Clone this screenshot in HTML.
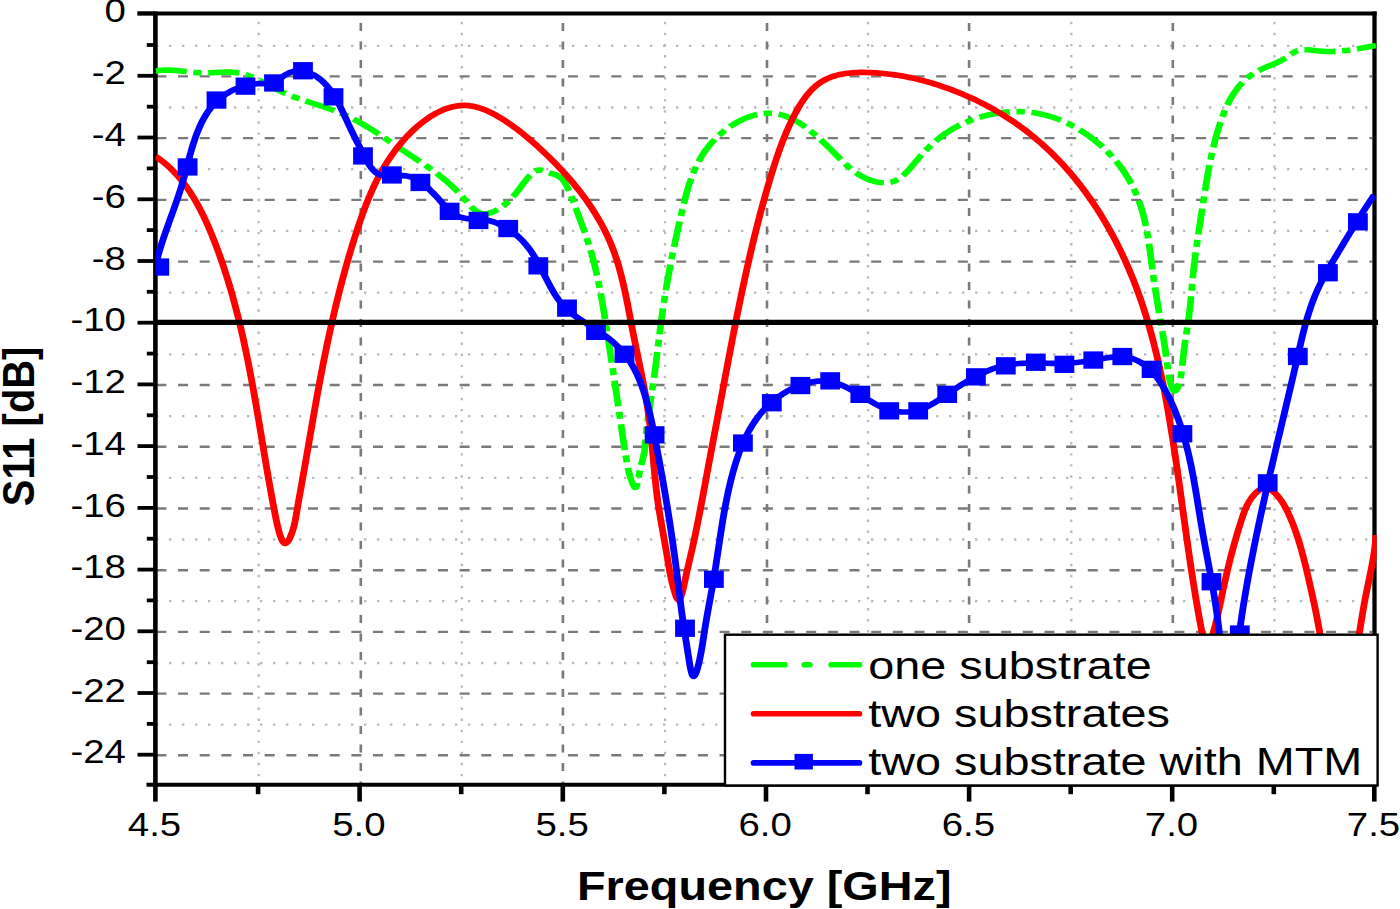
<!DOCTYPE html>
<html><head><meta charset="utf-8"><style>
*{margin:0;padding:0}
html,body{width:1400px;height:909px;overflow:hidden;background:#fff}
svg{display:block}
text{font-family:"Liberation Sans",sans-serif;fill:#000}
.tl{font-size:32.5px}
.tt{font-size:40.5px;font-weight:bold}
.lt{font-size:39.5px}
.gm{stroke:#bababa;stroke-width:2.3;stroke-dasharray:2.4 10.6}
.gmv{stroke:#bababa;stroke-width:2.3;stroke-dasharray:2.4 8.66}
.gM{stroke:#7a7a7a;stroke-width:2.4;stroke-dasharray:10 11.66}
.gMv{stroke:#7a7a7a;stroke-width:2.6;stroke-dasharray:8 10.5}
.cg{fill:none;stroke:#00ff00;stroke-width:5.6;stroke-dasharray:26 5.5 7 5.5;stroke-linejoin:round}
.cr{fill:none;stroke:#ff0000;stroke-width:5.7;stroke-linejoin:round}
.cb{fill:none;stroke:#0000ff;stroke-width:5.7;stroke-linejoin:round}
.lg{stroke-width:5.6;stroke-linecap:round}
</style></head>
<body><svg width="1400" height="909" viewBox="0 0 1400 909">
<defs><clipPath id="pc"><rect x="155.5" y="13.4" width="1221.1" height="771.6"/></clipPath></defs>
<rect width="1400" height="909" fill="#fff"/>
<line x1="156" y1="45.8" x2="1372" y2="45.8" class="gm"/>
<line x1="156" y1="107.5" x2="1372" y2="107.5" class="gm"/>
<line x1="156" y1="169.2" x2="1372" y2="169.2" class="gm"/>
<line x1="156" y1="230.9" x2="1372" y2="230.9" class="gm"/>
<line x1="156" y1="292.6" x2="1372" y2="292.6" class="gm"/>
<line x1="156" y1="354.4" x2="1372" y2="354.4" class="gm"/>
<line x1="156" y1="416.1" x2="1372" y2="416.1" class="gm"/>
<line x1="156" y1="477.8" x2="1372" y2="477.8" class="gm"/>
<line x1="156" y1="539.5" x2="1372" y2="539.5" class="gm"/>
<line x1="156" y1="601.2" x2="1372" y2="601.2" class="gm"/>
<line x1="156" y1="663.0" x2="1372" y2="663.0" class="gm"/>
<line x1="156" y1="724.7" x2="1372" y2="724.7" class="gm"/>
<line x1="258.7" y1="21.8" x2="258.7" y2="782" class="gmv"/>
<line x1="461.8" y1="21.8" x2="461.8" y2="782" class="gmv"/>
<line x1="665.0" y1="21.8" x2="665.0" y2="782" class="gmv"/>
<line x1="868.1" y1="21.8" x2="868.1" y2="782" class="gmv"/>
<line x1="1071.3" y1="21.8" x2="1071.3" y2="782" class="gmv"/>
<line x1="1274.4" y1="21.8" x2="1274.4" y2="782" class="gmv"/>
<line x1="156.4" y1="76.4" x2="1372" y2="76.4" class="gM"/>
<line x1="156.4" y1="138.1" x2="1372" y2="138.1" class="gM"/>
<line x1="156.4" y1="199.9" x2="1372" y2="199.9" class="gM"/>
<line x1="156.4" y1="261.6" x2="1372" y2="261.6" class="gM"/>
<line x1="156.4" y1="385.0" x2="1372" y2="385.0" class="gM"/>
<line x1="156.4" y1="446.7" x2="1372" y2="446.7" class="gM"/>
<line x1="156.4" y1="508.5" x2="1372" y2="508.5" class="gM"/>
<line x1="156.4" y1="570.2" x2="1372" y2="570.2" class="gM"/>
<line x1="156.4" y1="631.9" x2="1372" y2="631.9" class="gM"/>
<line x1="156.4" y1="693.6" x2="1372" y2="693.6" class="gM"/>
<line x1="156.4" y1="755.3" x2="1372" y2="755.3" class="gM"/>
<line x1="360.8" y1="22.9" x2="360.8" y2="783" class="gMv"/>
<line x1="562.9" y1="22.9" x2="562.9" y2="783" class="gMv"/>
<line x1="767.0" y1="22.9" x2="767.0" y2="783" class="gMv"/>
<line x1="969.1" y1="22.9" x2="969.1" y2="783" class="gMv"/>
<line x1="1172.8" y1="22.9" x2="1172.8" y2="783" class="gMv"/>
<line x1="155.4" y1="11.4" x2="155.4" y2="786.8" stroke="#000" stroke-width="4.6"/>
<line x1="1374.5" y1="11.4" x2="1374.5" y2="786.8" stroke="#000" stroke-width="4.3"/>
<line x1="137.5" y1="13.4" x2="1376.6" y2="13.4" stroke="#000" stroke-width="4"/>
<line x1="146.5" y1="784.8" x2="1376.6" y2="784.8" stroke="#000" stroke-width="4"/>
<line x1="137.5" y1="13.4" x2="155" y2="13.4" stroke="#000" stroke-width="3.8"/>
<line x1="146.8" y1="45.0" x2="155" y2="45.0" stroke="#000" stroke-width="3.8"/>
<line x1="137.5" y1="75.8" x2="155" y2="75.8" stroke="#000" stroke-width="3.8"/>
<line x1="146.8" y1="106.7" x2="155" y2="106.7" stroke="#000" stroke-width="3.8"/>
<line x1="137.5" y1="137.5" x2="155" y2="137.5" stroke="#000" stroke-width="3.8"/>
<line x1="146.8" y1="168.4" x2="155" y2="168.4" stroke="#000" stroke-width="3.8"/>
<line x1="137.5" y1="199.3" x2="155" y2="199.3" stroke="#000" stroke-width="3.8"/>
<line x1="146.8" y1="230.1" x2="155" y2="230.1" stroke="#000" stroke-width="3.8"/>
<line x1="137.5" y1="261.0" x2="155" y2="261.0" stroke="#000" stroke-width="3.8"/>
<line x1="146.8" y1="291.8" x2="155" y2="291.8" stroke="#000" stroke-width="3.8"/>
<line x1="137.5" y1="322.7" x2="155" y2="322.7" stroke="#000" stroke-width="3.8"/>
<line x1="146.8" y1="353.6" x2="155" y2="353.6" stroke="#000" stroke-width="3.8"/>
<line x1="137.5" y1="384.4" x2="155" y2="384.4" stroke="#000" stroke-width="3.8"/>
<line x1="146.8" y1="415.3" x2="155" y2="415.3" stroke="#000" stroke-width="3.8"/>
<line x1="137.5" y1="446.1" x2="155" y2="446.1" stroke="#000" stroke-width="3.8"/>
<line x1="146.8" y1="477.0" x2="155" y2="477.0" stroke="#000" stroke-width="3.8"/>
<line x1="137.5" y1="507.9" x2="155" y2="507.9" stroke="#000" stroke-width="3.8"/>
<line x1="146.8" y1="538.7" x2="155" y2="538.7" stroke="#000" stroke-width="3.8"/>
<line x1="137.5" y1="569.6" x2="155" y2="569.6" stroke="#000" stroke-width="3.8"/>
<line x1="146.8" y1="600.4" x2="155" y2="600.4" stroke="#000" stroke-width="3.8"/>
<line x1="137.5" y1="631.3" x2="155" y2="631.3" stroke="#000" stroke-width="3.8"/>
<line x1="146.8" y1="662.2" x2="155" y2="662.2" stroke="#000" stroke-width="3.8"/>
<line x1="137.5" y1="693.0" x2="155" y2="693.0" stroke="#000" stroke-width="3.8"/>
<line x1="146.8" y1="723.9" x2="155" y2="723.9" stroke="#000" stroke-width="3.8"/>
<line x1="137.5" y1="754.7" x2="155" y2="754.7" stroke="#000" stroke-width="3.8"/>
<line x1="155.4" y1="786" x2="155.4" y2="801.6" stroke="#000" stroke-width="4.6"/>
<line x1="258.1" y1="786" x2="258.1" y2="794.2" stroke="#000" stroke-width="4.6"/>
<line x1="359.6" y1="786" x2="359.6" y2="801.6" stroke="#000" stroke-width="4.6"/>
<line x1="461.2" y1="786" x2="461.2" y2="794.2" stroke="#000" stroke-width="4.6"/>
<line x1="562.8" y1="786" x2="562.8" y2="801.6" stroke="#000" stroke-width="4.6"/>
<line x1="664.4" y1="786" x2="664.4" y2="794.2" stroke="#000" stroke-width="4.6"/>
<line x1="766.0" y1="786" x2="766.0" y2="801.6" stroke="#000" stroke-width="4.6"/>
<line x1="867.5" y1="786" x2="867.5" y2="794.2" stroke="#000" stroke-width="4.6"/>
<line x1="969.1" y1="786" x2="969.1" y2="801.6" stroke="#000" stroke-width="4.6"/>
<line x1="1070.7" y1="786" x2="1070.7" y2="794.2" stroke="#000" stroke-width="4.6"/>
<line x1="1172.2" y1="786" x2="1172.2" y2="801.6" stroke="#000" stroke-width="4.6"/>
<line x1="1273.8" y1="786" x2="1273.8" y2="794.2" stroke="#000" stroke-width="4.6"/>
<line x1="1374.3" y1="786" x2="1374.3" y2="801.6" stroke="#000" stroke-width="4.6"/>
<g clip-path="url(#pc)">
<g transform="scale(1.2000,1)">
<path d="M129.70,70.89 L131.45,70.60 L133.18,70.39 L134.89,70.23 L136.59,70.14 L138.27,70.10 L139.94,70.11 L141.60,70.16 L143.25,70.25 L144.89,70.38 L146.53,70.53 L148.16,70.71 L149.78,70.90 L151.40,71.11 L153.02,71.33 L154.64,71.56 L156.27,71.78 L157.89,72.00 L159.52,72.20 L161.16,72.39 L162.80,72.56 L164.45,72.70 L166.11,72.82 L167.78,72.89 L169.47,72.93 L171.17,72.92 L172.88,72.88 L174.60,72.81 L176.33,72.73 L178.06,72.63 L179.79,72.52 L181.53,72.41 L183.26,72.31 L184.99,72.22 L186.72,72.16 L188.44,72.12 L190.15,72.12 L191.85,72.17 L193.54,72.26 L195.21,72.41 L196.87,72.62 L198.50,72.90 L200.12,73.26 L201.72,73.69 L203.30,74.18 L204.87,74.73 L206.42,75.34 L207.95,76.00 L209.48,76.71 L210.99,77.46 L212.49,78.25 L213.99,79.08 L215.48,79.93 L216.96,80.81 L218.43,81.71 L219.91,82.63 L221.38,83.57 L222.85,84.51 L224.32,85.45 L225.80,86.39 L227.27,87.33 L228.76,88.26 L230.24,89.18 L231.74,90.08 L233.24,90.95 L234.75,91.80 L236.27,92.63 L237.79,93.43 L239.33,94.21 L240.87,94.96 L242.42,95.70 L243.98,96.42 L245.54,97.13 L247.11,97.81 L248.68,98.49 L250.26,99.15 L251.84,99.80 L253.42,100.44 L255.00,101.08 L256.59,101.71 L258.18,102.33 L259.77,102.95 L261.36,103.56 L262.94,104.18 L264.53,104.80 L266.12,105.42 L267.71,106.04 L269.29,106.67 L270.87,107.31 L272.45,107.95 L274.02,108.61 L275.59,109.27 L277.15,109.95 L278.71,110.64 L280.26,111.35 L281.80,112.07 L283.34,112.81 L284.87,113.57 L286.39,114.36 L287.91,115.16 L289.41,115.99 L290.91,116.84 L292.39,117.72 L293.87,118.61 L295.35,119.52 L296.81,120.45 L298.27,121.40 L299.72,122.37 L301.16,123.35 L302.60,124.35 L304.03,125.36 L305.46,126.39 L306.88,127.43 L308.29,128.48 L309.70,129.54 L311.11,130.61 L312.51,131.69 L313.91,132.78 L315.31,133.87 L316.70,134.97 L318.09,136.08 L319.47,137.19 L320.86,138.31 L322.24,139.43 L323.62,140.55 L325.00,141.67 L326.38,142.79 L327.75,143.91 L329.13,145.03 L330.51,146.14 L331.88,147.26 L333.26,148.37 L334.64,149.47 L336.02,150.57 L337.39,151.66 L338.77,152.75 L340.15,153.84 L341.53,154.93 L342.91,156.01 L344.29,157.10 L345.66,158.18 L347.04,159.27 L348.41,160.36 L349.78,161.46 L351.15,162.56 L352.51,163.66 L353.88,164.77 L355.23,165.90 L356.59,167.02 L357.94,168.16 L359.29,169.31 L360.63,170.48 L361.96,171.65 L363.30,172.84 L364.62,174.04 L365.94,175.26 L367.26,176.49 L368.56,177.74 L369.86,179.01 L371.16,180.30 L372.44,181.61 L373.72,182.94 L374.99,184.30 L376.25,185.67 L377.50,187.07 L378.75,188.50 L379.98,189.95 L381.20,191.43 L382.42,192.94 L383.62,194.47 L384.82,196.04 L386.00,197.63 L387.17,199.26 L388.33,200.91 L389.50,202.55 L390.66,204.16 L391.84,205.73 L393.02,207.22 L394.23,208.62 L395.47,209.90 L396.73,211.04 L398.03,212.02 L399.38,212.81 L400.77,213.40 L402.22,213.76 L403.72,213.87 L405.27,213.76 L406.85,213.43 L408.46,212.91 L410.07,212.23 L411.68,211.41 L413.28,210.46 L414.84,209.41 L416.37,208.28 L417.84,207.09 L419.25,205.86 L420.61,204.59 L421.92,203.28 L423.17,201.93 L424.38,200.55 L425.55,199.15 L426.68,197.72 L427.77,196.26 L428.83,194.79 L429.86,193.30 L430.87,191.80 L431.85,190.29 L432.82,188.77 L433.78,187.23 L434.76,185.65 L435.77,184.04 L436.83,182.38 L437.94,180.66 L439.11,178.91 L440.34,177.19 L441.61,175.54 L442.93,174.01 L444.28,172.65 L445.66,171.52 L447.07,170.65 L448.50,170.11 L449.95,169.93 L451.40,170.15 L452.89,170.68 L454.44,171.39 L456.07,172.16 L457.81,172.87 L459.61,173.52 L461.42,174.18 L463.16,174.90 L464.77,175.74 L466.21,176.75 L467.49,177.91 L468.62,179.22 L469.62,180.65 L470.52,182.18 L471.34,183.81 L472.08,185.51 L472.79,187.26 L473.46,189.05 L474.13,190.87 L474.79,192.71 L475.44,194.57 L476.08,196.44 L476.71,198.33 L477.34,200.23 L477.96,202.15 L478.57,204.07 L479.18,206.00 L479.79,207.93 L480.39,209.86 L480.99,211.79 L481.58,213.72 L482.17,215.64 L482.76,217.56 L483.35,219.47 L483.93,221.37 L484.51,223.26 L485.09,225.15 L485.66,227.03 L486.23,228.91 L486.79,230.78 L487.35,232.66 L487.89,234.53 L488.44,236.40 L488.97,238.27 L489.50,240.14 L490.01,242.02 L490.52,243.90 L491.02,245.78 L491.51,247.67 L491.98,249.56 L492.45,251.46 L492.91,253.36 L493.36,255.27 L493.80,257.18 L494.23,259.10 L494.65,261.02 L495.06,262.94 L495.47,264.87 L495.86,266.80 L496.25,268.74 L496.63,270.68 L497.00,272.62 L497.37,274.57 L497.73,276.52 L498.08,278.47 L498.43,280.42 L498.76,282.38 L499.10,284.34 L499.43,286.30 L499.75,288.27 L500.06,290.24 L500.37,292.21 L500.68,294.18 L500.98,296.15 L501.28,298.13 L501.57,300.10 L501.86,302.08 L502.15,304.06 L502.43,306.04 L502.71,308.02 L502.98,310.00 L503.25,311.99 L503.52,313.97 L503.79,315.95 L504.06,317.94 L504.32,319.92 L504.58,321.91 L504.84,323.89 L505.10,325.87 L505.36,327.86 L505.62,329.84 L505.87,331.82 L506.13,333.81 L506.38,335.79 L506.64,337.77 L506.89,339.75 L507.15,341.73 L507.40,343.71 L507.65,345.69 L507.91,347.67 L508.16,349.64 L508.41,351.62 L508.66,353.60 L508.91,355.57 L509.16,357.55 L509.41,359.53 L509.66,361.50 L509.91,363.48 L510.16,365.45 L510.41,367.43 L510.66,369.40 L510.91,371.37 L511.15,373.35 L511.40,375.32 L511.65,377.29 L511.90,379.27 L512.14,381.24 L512.39,383.21 L512.63,385.19 L512.88,387.16 L513.12,389.13 L513.37,391.10 L513.61,393.08 L513.86,395.05 L514.10,397.02 L514.34,398.99 L514.59,400.97 L514.83,402.94 L515.07,404.91 L515.32,406.88 L515.56,408.86 L515.80,410.83 L516.04,412.80 L516.29,414.77 L516.53,416.75 L516.77,418.72 L517.01,420.70 L517.25,422.67 L517.49,424.64 L517.73,426.62 L517.97,428.59 L518.22,430.57 L518.46,432.54 L518.70,434.52 L518.94,436.50 L519.19,438.47 L519.43,440.45 L519.68,442.43 L519.93,444.41 L520.18,446.39 L520.44,448.37 L520.70,450.35 L520.97,452.33 L521.24,454.31 L521.51,456.30 L521.79,458.28 L522.07,460.27 L522.36,462.25 L522.66,464.24 L522.99,466.25 L523.33,468.26 L523.71,470.29 L524.12,472.33 L524.57,474.40 L525.07,476.50 L525.63,478.63 L526.24,480.79 L526.91,482.92 L527.61,484.86 L528.31,486.40 L528.97,487.34 L529.58,487.51 L530.12,486.91 L530.61,485.66 L531.06,483.88 L531.48,481.69 L531.88,479.21 L532.27,476.57 L532.66,473.89 L533.07,471.28 L533.50,468.84 L533.95,466.56 L534.40,464.42 L534.85,462.40 L535.30,460.46 L535.72,458.58 L536.11,456.74 L536.47,454.90 L536.78,453.05 L537.05,451.17 L537.27,449.25 L537.45,447.31 L537.62,445.35 L537.76,443.37 L537.90,441.38 L538.04,439.38 L538.18,437.39 L538.33,435.39 L538.50,433.40 L538.67,431.41 L538.86,429.42 L539.05,427.43 L539.25,425.44 L539.45,423.45 L539.67,421.46 L539.89,419.48 L540.11,417.49 L540.35,415.51 L540.58,413.53 L540.82,411.54 L541.06,409.56 L541.31,407.58 L541.56,405.60 L541.81,403.62 L542.06,401.64 L542.31,399.66 L542.57,397.68 L542.82,395.70 L543.07,393.71 L543.32,391.73 L543.57,389.75 L543.82,387.77 L544.06,385.79 L544.30,383.81 L544.54,381.82 L544.77,379.84 L545.00,377.86 L545.22,375.87 L545.45,373.89 L545.67,371.91 L545.89,369.92 L546.10,367.94 L546.32,365.95 L546.53,363.97 L546.74,361.98 L546.95,360.00 L547.15,358.01 L547.36,356.03 L547.57,354.04 L547.77,352.05 L547.98,350.07 L548.18,348.08 L548.38,346.10 L548.59,344.11 L548.79,342.13 L549.00,340.14 L549.20,338.16 L549.41,336.17 L549.62,334.19 L549.82,332.20 L550.03,330.22 L550.25,328.23 L550.46,326.25 L550.68,324.27 L550.89,322.28 L551.11,320.30 L551.34,318.32 L551.56,316.34 L551.79,314.36 L552.02,312.37 L552.26,310.39 L552.50,308.41 L552.74,306.44 L552.99,304.46 L553.24,302.48 L553.50,300.50 L553.75,298.53 L554.01,296.55 L554.28,294.57 L554.55,292.60 L554.82,290.63 L555.10,288.65 L555.38,286.68 L555.66,284.71 L555.94,282.73 L556.23,280.76 L556.53,278.79 L556.82,276.82 L557.12,274.85 L557.42,272.88 L557.73,270.92 L558.04,268.95 L558.35,266.98 L558.66,265.01 L558.98,263.05 L559.30,261.08 L559.63,259.12 L559.95,257.16 L560.28,255.19 L560.61,253.23 L560.95,251.27 L561.29,249.31 L561.63,247.35 L561.97,245.39 L562.32,243.43 L562.66,241.47 L563.01,239.51 L563.37,237.55 L563.72,235.59 L564.08,233.64 L564.44,231.68 L564.81,229.73 L565.17,227.77 L565.54,225.82 L565.91,223.87 L566.28,221.91 L566.66,219.96 L567.03,218.01 L567.41,216.06 L567.79,214.11 L568.17,212.16 L568.56,210.21 L568.95,208.27 L569.34,206.32 L569.73,204.38 L570.13,202.44 L570.54,200.50 L570.95,198.56 L571.37,196.63 L571.80,194.70 L572.25,192.78 L572.70,190.86 L573.16,188.95 L573.64,187.05 L574.13,185.15 L574.64,183.27 L575.16,181.39 L575.70,179.51 L576.26,177.65 L576.84,175.80 L577.44,173.96 L578.06,172.13 L578.70,170.31 L579.36,168.50 L580.05,166.70 L580.76,164.92 L581.50,163.15 L582.27,161.39 L583.06,159.65 L583.89,157.93 L584.74,156.22 L585.63,154.52 L586.54,152.85 L587.49,151.19 L588.48,149.54 L589.49,147.92 L590.55,146.31 L591.63,144.73 L592.75,143.17 L593.89,141.63 L595.07,140.12 L596.28,138.63 L597.51,137.18 L598.77,135.75 L600.05,134.35 L601.36,132.98 L602.70,131.65 L604.05,130.35 L605.43,129.09 L606.82,127.87 L608.24,126.68 L609.67,125.54 L611.12,124.44 L612.58,123.38 L614.06,122.36 L615.56,121.39 L617.06,120.47 L618.58,119.60 L620.11,118.77 L621.64,118.00 L623.19,117.28 L624.74,116.62 L626.30,116.01 L627.86,115.46 L629.43,114.96 L631.00,114.53 L632.58,114.15 L634.15,113.84 L635.72,113.60 L637.29,113.41 L638.86,113.30 L640.43,113.25 L641.99,113.27 L643.55,113.37 L645.09,113.53 L646.64,113.77 L648.17,114.08 L649.69,114.47 L651.21,114.92 L652.71,115.44 L654.21,116.03 L655.70,116.68 L657.18,117.39 L658.65,118.16 L660.11,118.99 L661.56,119.87 L663.01,120.79 L664.44,121.77 L665.87,122.80 L667.28,123.87 L668.69,124.98 L670.09,126.13 L671.48,127.32 L672.85,128.54 L674.22,129.80 L675.58,131.09 L676.93,132.40 L678.28,133.74 L679.61,135.11 L680.93,136.49 L682.24,137.90 L683.54,139.32 L684.84,140.75 L686.12,142.20 L687.39,143.65 L688.65,145.12 L689.91,146.58 L691.15,148.06 L692.38,149.53 L693.61,151.00 L694.82,152.46 L696.02,153.92 L697.22,155.37 L698.40,156.80 L699.58,158.23 L700.76,159.64 L701.93,161.03 L703.11,162.40 L704.29,163.74 L705.48,165.07 L706.68,166.36 L707.89,167.63 L709.11,168.86 L710.35,170.06 L711.61,171.22 L712.89,172.35 L714.20,173.43 L715.54,174.47 L716.90,175.47 L718.30,176.42 L719.73,177.31 L721.20,178.16 L722.71,178.95 L724.26,179.68 L725.86,180.36 L727.49,180.97 L729.15,181.50 L730.84,181.95 L732.54,182.31 L734.24,182.57 L735.94,182.72 L737.63,182.76 L739.30,182.68 L740.94,182.46 L742.54,182.10 L744.10,181.59 L745.60,180.93 L747.05,180.13 L748.46,179.19 L749.82,178.13 L751.14,176.96 L752.43,175.69 L753.68,174.33 L754.90,172.91 L756.10,171.42 L757.27,169.89 L758.43,168.31 L759.57,166.72 L760.70,165.11 L761.82,163.50 L762.94,161.90 L764.06,160.32 L765.17,158.76 L766.29,157.22 L767.41,155.69 L768.54,154.19 L769.67,152.71 L770.80,151.25 L771.95,149.82 L773.10,148.40 L774.26,147.01 L775.44,145.64 L776.63,144.29 L777.83,142.97 L779.05,141.67 L780.28,140.39 L781.54,139.14 L782.81,137.92 L784.11,136.72 L785.42,135.54 L786.76,134.40 L788.11,133.27 L789.49,132.18 L790.88,131.11 L792.29,130.06 L793.72,129.05 L795.17,128.06 L796.63,127.10 L798.11,126.16 L799.60,125.25 L801.11,124.37 L802.63,123.52 L804.17,122.70 L805.71,121.90 L807.27,121.13 L808.84,120.39 L810.43,119.68 L812.02,119.00 L813.62,118.35 L815.23,117.72 L816.85,117.13 L818.47,116.56 L820.11,116.03 L821.75,115.52 L823.39,115.05 L825.05,114.60 L826.70,114.19 L828.36,113.80 L830.03,113.45 L831.69,113.13 L833.36,112.84 L835.03,112.58 L836.71,112.35 L838.38,112.15 L840.05,111.98 L841.72,111.85 L843.39,111.75 L845.06,111.68 L846.73,111.64 L848.39,111.64 L850.05,111.67 L851.71,111.73 L853.36,111.82 L855.00,111.95 L856.64,112.11 L858.27,112.31 L859.89,112.53 L861.51,112.80 L863.12,113.09 L864.72,113.42 L866.31,113.79 L867.89,114.19 L869.47,114.62 L871.04,115.08 L872.60,115.58 L874.16,116.11 L875.71,116.67 L877.25,117.26 L878.78,117.88 L880.31,118.54 L881.84,119.23 L883.35,119.95 L884.87,120.70 L886.37,121.48 L887.87,122.29 L889.37,123.13 L890.86,124.01 L892.35,124.91 L893.83,125.84 L895.31,126.80 L896.78,127.79 L898.25,128.81 L899.70,129.85 L901.15,130.92 L902.59,132.02 L904.02,133.14 L905.43,134.29 L906.84,135.45 L908.23,136.64 L909.61,137.86 L910.97,139.09 L912.31,140.35 L913.64,141.62 L914.95,142.91 L916.24,144.22 L917.51,145.55 L918.76,146.90 L919.99,148.27 L921.21,149.65 L922.40,151.05 L923.58,152.47 L924.73,153.90 L925.87,155.36 L926.99,156.82 L928.08,158.31 L929.16,159.81 L930.22,161.33 L931.26,162.86 L932.27,164.41 L933.27,165.98 L934.25,167.56 L935.21,169.16 L936.14,170.77 L937.06,172.40 L937.96,174.04 L938.83,175.69 L939.69,177.36 L940.53,179.05 L941.34,180.75 L942.13,182.46 L942.91,184.19 L943.66,185.93 L944.39,187.68 L945.10,189.45 L945.79,191.23 L946.46,193.02 L947.11,194.83 L947.73,196.65 L948.34,198.48 L948.92,200.32 L949.48,202.18 L950.02,204.05 L950.54,205.92 L951.04,207.81 L951.52,209.71 L951.98,211.62 L952.43,213.54 L952.85,215.47 L953.27,217.41 L953.66,219.35 L954.04,221.31 L954.40,223.27 L954.75,225.24 L955.09,227.21 L955.42,229.19 L955.73,231.18 L956.03,233.17 L956.32,235.16 L956.61,237.16 L956.88,239.17 L957.14,241.18 L957.40,243.19 L957.65,245.20 L957.90,247.21 L958.13,249.23 L958.37,251.25 L958.60,253.27 L958.82,255.29 L959.04,257.31 L959.26,259.33 L959.48,261.35 L959.70,263.36 L959.92,265.38 L960.14,267.39 L960.36,269.40 L960.58,271.41 L960.80,273.41 L961.03,275.41 L961.26,277.41 L961.50,279.40 L961.74,281.38 L961.98,283.37 L962.23,285.34 L962.48,287.32 L962.74,289.29 L962.99,291.26 L963.25,293.22 L963.52,295.18 L963.78,297.14 L964.05,299.10 L964.32,301.05 L964.59,303.00 L964.86,304.96 L965.14,306.90 L965.41,308.85 L965.69,310.80 L965.97,312.75 L966.24,314.69 L966.52,316.64 L966.80,318.59 L967.08,320.53 L967.35,322.48 L967.63,324.43 L967.90,326.38 L968.18,328.33 L968.45,330.28 L968.72,332.23 L968.99,334.19 L969.26,336.15 L969.52,338.11 L969.79,340.07 L970.05,342.03 L970.30,344.00 L970.56,345.97 L970.81,347.95 L971.06,349.93 L971.30,351.91 L971.54,353.90 L971.78,355.89 L972.01,357.89 L972.23,359.89 L972.45,361.90 L972.67,363.91 L972.89,365.93 L973.11,367.97 L973.34,370.04 L973.60,372.13 L973.89,374.26 L974.22,376.44 L974.58,378.67 L975.01,380.96 L975.49,383.29 L976.03,385.56 L976.62,387.61 L977.28,389.30 L977.99,390.46 L978.75,390.95 L979.56,390.68 L980.38,389.75 L981.16,388.33 L981.86,386.57 L982.47,384.56 L983.01,382.36 L983.47,380.00 L983.87,377.56 L984.22,375.08 L984.52,372.61 L984.79,370.22 L985.02,367.95 L985.23,365.80 L985.42,363.76 L985.60,361.80 L985.76,359.91 L985.92,358.07 L986.08,356.25 L986.25,354.43 L986.42,352.61 L986.61,350.75 L986.81,348.85 L987.03,346.91 L987.26,344.94 L987.50,342.95 L987.75,340.93 L988.00,338.91 L988.26,336.88 L988.52,334.85 L988.77,332.82 L989.03,330.81 L989.28,328.80 L989.53,326.80 L989.77,324.81 L990.01,322.83 L990.24,320.85 L990.47,318.88 L990.70,316.90 L990.91,314.93 L991.12,312.96 L991.32,310.99 L991.52,309.02 L991.70,307.04 L991.88,305.06 L992.05,303.07 L992.22,301.08 L992.38,299.09 L992.53,297.10 L992.69,295.11 L992.84,293.11 L992.98,291.11 L993.13,289.12 L993.28,287.12 L993.43,285.12 L993.58,283.12 L993.73,281.12 L993.88,279.12 L994.04,277.13 L994.20,275.13 L994.37,273.14 L994.54,271.14 L994.72,269.15 L994.91,267.16 L995.10,265.17 L995.30,263.19 L995.50,261.20 L995.70,259.22 L995.91,257.23 L996.13,255.25 L996.34,253.27 L996.56,251.29 L996.79,249.31 L997.02,247.33 L997.25,245.35 L997.49,243.37 L997.72,241.40 L997.96,239.42 L998.21,237.45 L998.45,235.47 L998.70,233.50 L998.95,231.52 L999.20,229.55 L999.45,227.57 L999.70,225.60 L999.96,223.63 L1000.21,221.65 L1000.47,219.68 L1000.72,217.70 L1000.98,215.73 L1001.24,213.76 L1001.49,211.78 L1001.75,209.81 L1002.01,207.83 L1002.26,205.85 L1002.52,203.88 L1002.77,201.90 L1003.02,199.92 L1003.28,197.94 L1003.54,195.97 L1003.79,193.99 L1004.05,192.01 L1004.31,190.03 L1004.58,188.06 L1004.84,186.08 L1005.11,184.10 L1005.39,182.13 L1005.66,180.15 L1005.94,178.18 L1006.23,176.21 L1006.51,174.23 L1006.81,172.26 L1007.11,170.29 L1007.41,168.32 L1007.72,166.35 L1008.04,164.39 L1008.36,162.42 L1008.69,160.46 L1009.03,158.50 L1009.37,156.54 L1009.72,154.58 L1010.08,152.62 L1010.45,150.67 L1010.83,148.71 L1011.22,146.76 L1011.61,144.82 L1012.02,142.87 L1012.44,140.93 L1012.87,138.99 L1013.30,137.05 L1013.75,135.11 L1014.21,133.18 L1014.69,131.25 L1015.17,129.32 L1015.67,127.40 L1016.18,125.48 L1016.70,123.56 L1017.24,121.65 L1017.79,119.75 L1018.36,117.85 L1018.95,115.96 L1019.55,114.08 L1020.17,112.22 L1020.81,110.36 L1021.47,108.53 L1022.15,106.70 L1022.86,104.90 L1023.59,103.12 L1024.34,101.35 L1025.12,99.61 L1025.92,97.89 L1026.75,96.20 L1027.61,94.53 L1028.49,92.89 L1029.41,91.28 L1030.35,89.70 L1031.33,88.15 L1032.33,86.64 L1033.38,85.16 L1034.45,83.72 L1035.56,82.31 L1036.70,80.94 L1037.89,79.62 L1039.11,78.34 L1040.36,77.09 L1041.66,75.90 L1043.00,74.75 L1044.37,73.65 L1045.79,72.59 L1047.25,71.59 L1048.76,70.64 L1050.30,69.73 L1051.88,68.86 L1053.47,68.02 L1055.09,67.19 L1056.72,66.38 L1058.36,65.57 L1060.00,64.75 L1061.63,63.92 L1063.25,63.07 L1064.85,62.18 L1066.43,61.26 L1067.97,60.29 L1069.48,59.26 L1070.94,58.17 L1072.36,57.02 L1073.75,55.85 L1075.12,54.69 L1076.49,53.58 L1077.87,52.56 L1079.27,51.65 L1080.71,50.91 L1082.20,50.35 L1083.75,49.98 L1085.33,49.76 L1086.95,49.68 L1088.61,49.71 L1090.28,49.83 L1091.98,50.02 L1093.69,50.25 L1095.40,50.50 L1097.11,50.75 L1098.82,50.97 L1100.52,51.15 L1102.20,51.29 L1103.88,51.40 L1105.55,51.46 L1107.21,51.49 L1108.86,51.49 L1110.51,51.45 L1112.16,51.38 L1113.79,51.29 L1115.43,51.16 L1117.06,51.01 L1118.69,50.83 L1120.31,50.63 L1121.94,50.41 L1123.56,50.17 L1125.19,49.91 L1126.81,49.63 L1128.44,49.34 L1130.07,49.03 L1131.71,48.71 L1133.34,48.38 L1134.99,48.04 L1136.64,47.69 L1138.29,47.33 L1139.95,46.97 L1141.62,46.61 L1143.30,46.24 L1144.99,45.87 L1146.69,45.51" class="cg"/>
<path d="M129.69,156.36 L131.34,157.73 L132.95,159.13 L134.53,160.57 L136.08,162.04 L137.59,163.54 L139.08,165.06 L140.53,166.62 L141.95,168.21 L143.34,169.83 L144.70,171.47 L146.03,173.15 L147.34,174.84 L148.61,176.57 L149.86,178.31 L151.08,180.09 L152.28,181.88 L153.45,183.70 L154.60,185.54 L155.72,187.40 L156.82,189.28 L157.90,191.19 L158.96,193.11 L159.99,195.05 L161.00,197.00 L161.99,198.98 L162.97,200.97 L163.92,202.97 L164.85,204.99 L165.77,207.03 L166.67,209.07 L167.55,211.13 L168.42,213.21 L169.27,215.29 L170.11,217.38 L170.93,219.49 L171.74,221.60 L172.53,223.72 L173.32,225.85 L174.09,227.98 L174.85,230.12 L175.60,232.27 L176.34,234.42 L177.07,236.58 L177.79,238.73 L178.50,240.90 L179.20,243.06 L179.90,245.23 L180.59,247.40 L181.26,249.58 L181.93,251.75 L182.60,253.93 L183.25,256.12 L183.90,258.30 L184.53,260.49 L185.16,262.68 L185.79,264.88 L186.40,267.08 L187.01,269.28 L187.61,271.48 L188.20,273.69 L188.79,275.89 L189.37,278.10 L189.94,280.32 L190.50,282.53 L191.06,284.75 L191.61,286.97 L192.16,289.19 L192.70,291.42 L193.23,293.65 L193.75,295.88 L194.27,298.11 L194.78,300.34 L195.29,302.58 L195.79,304.82 L196.29,307.06 L196.78,309.30 L197.26,311.54 L197.74,313.79 L198.21,316.03 L198.68,318.28 L199.14,320.53 L199.59,322.79 L200.04,325.04 L200.49,327.30 L200.93,329.55 L201.37,331.81 L201.80,334.07 L202.23,336.33 L202.65,338.60 L203.07,340.86 L203.48,343.13 L203.89,345.40 L204.29,347.66 L204.70,349.93 L205.09,352.20 L205.49,354.48 L205.87,356.75 L206.26,359.02 L206.64,361.30 L207.02,363.57 L207.40,365.85 L207.77,368.13 L208.14,370.41 L208.50,372.69 L208.86,374.97 L209.22,377.25 L209.58,379.53 L209.93,381.81 L210.28,384.09 L210.63,386.38 L210.98,388.66 L211.32,390.94 L211.66,393.23 L212.00,395.51 L212.34,397.80 L212.67,400.08 L213.01,402.37 L213.34,404.65 L213.67,406.94 L214.00,409.23 L214.32,411.51 L214.65,413.80 L214.97,416.09 L215.30,418.38 L215.62,420.66 L215.94,422.95 L216.26,425.24 L216.58,427.53 L216.90,429.81 L217.22,432.10 L217.54,434.39 L217.85,436.67 L218.17,438.96 L218.49,441.25 L218.81,443.54 L219.13,445.82 L219.44,448.11 L219.76,450.39 L220.08,452.68 L220.40,454.97 L220.72,457.25 L221.04,459.54 L221.36,461.82 L221.69,464.10 L222.01,466.39 L222.33,468.67 L222.66,470.95 L222.99,473.24 L223.32,475.52 L223.65,477.80 L223.98,480.08 L224.32,482.36 L224.65,484.64 L224.99,486.92 L225.33,489.19 L225.67,491.47 L226.02,493.74 L226.36,496.01 L226.71,498.28 L227.06,500.54 L227.41,502.80 L227.77,505.06 L228.12,507.31 L228.48,509.55 L228.84,511.79 L229.20,514.02 L229.57,516.24 L229.94,518.49 L230.34,520.77 L230.77,523.14 L231.25,525.61 L231.78,528.22 L232.37,530.97 L233.03,533.77 L233.75,536.46 L234.52,538.90 L235.35,540.96 L236.22,542.48 L237.14,543.32 L238.10,543.35 L239.08,542.59 L240.06,541.17 L241.03,539.21 L241.97,536.86 L242.85,534.25 L243.66,531.52 L244.37,528.78 L244.97,526.17 L245.48,523.70 L245.90,521.33 L246.26,519.04 L246.59,516.80 L246.91,514.58 L247.22,512.36 L247.54,510.12 L247.86,507.88 L248.18,505.63 L248.51,503.38 L248.84,501.12 L249.18,498.85 L249.51,496.58 L249.85,494.31 L250.19,492.03 L250.53,489.75 L250.87,487.46 L251.21,485.17 L251.56,482.89 L251.90,480.59 L252.24,478.30 L252.58,476.01 L252.92,473.72 L253.26,471.43 L253.60,469.14 L253.93,466.85 L254.27,464.56 L254.60,462.28 L254.93,459.99 L255.26,457.71 L255.59,455.42 L255.92,453.14 L256.25,450.86 L256.58,448.58 L256.91,446.29 L257.24,444.01 L257.57,441.73 L257.90,439.45 L258.22,437.17 L258.55,434.90 L258.88,432.62 L259.21,430.34 L259.53,428.06 L259.86,425.79 L260.19,423.51 L260.52,421.23 L260.85,418.96 L261.18,416.68 L261.52,414.40 L261.85,412.13 L262.18,409.85 L262.52,407.58 L262.85,405.30 L263.19,403.02 L263.53,400.75 L263.87,398.47 L264.22,396.20 L264.56,393.92 L264.90,391.64 L265.25,389.37 L265.60,387.09 L265.95,384.81 L266.31,382.54 L266.66,380.26 L267.02,377.98 L267.38,375.70 L267.75,373.42 L268.11,371.14 L268.48,368.86 L268.85,366.58 L269.23,364.30 L269.60,362.02 L269.98,359.74 L270.36,357.46 L270.75,355.18 L271.13,352.91 L271.52,350.63 L271.92,348.35 L272.31,346.07 L272.71,343.79 L273.11,341.51 L273.52,339.23 L273.92,336.96 L274.33,334.68 L274.75,332.41 L275.16,330.13 L275.58,327.86 L276.01,325.58 L276.43,323.31 L276.86,321.04 L277.30,318.77 L277.73,316.50 L278.17,314.23 L278.62,311.96 L279.06,309.69 L279.52,307.43 L279.97,305.16 L280.43,302.90 L280.89,300.64 L281.35,298.38 L281.82,296.12 L282.29,293.86 L282.77,291.61 L283.25,289.35 L283.74,287.10 L284.22,284.85 L284.71,282.60 L285.21,280.35 L285.71,278.11 L286.21,275.86 L286.72,273.62 L287.23,271.38 L287.75,269.15 L288.27,266.91 L288.80,264.68 L289.33,262.45 L289.86,260.22 L290.40,257.99 L290.94,255.77 L291.49,253.55 L292.04,251.33 L292.59,249.11 L293.15,246.90 L293.72,244.69 L294.29,242.48 L294.86,240.27 L295.44,238.07 L296.02,235.87 L296.61,233.67 L297.20,231.48 L297.80,229.29 L298.41,227.10 L299.01,224.91 L299.63,222.73 L300.25,220.56 L300.88,218.38 L301.52,216.21 L302.16,214.05 L302.81,211.89 L303.48,209.74 L304.15,207.59 L304.83,205.45 L305.53,203.31 L306.23,201.18 L306.95,199.06 L307.68,196.94 L308.42,194.83 L309.18,192.73 L309.95,190.63 L310.73,188.54 L311.53,186.47 L312.35,184.39 L313.18,182.33 L314.03,180.28 L314.90,178.23 L315.78,176.20 L316.68,174.17 L317.61,172.16 L318.55,170.15 L319.51,168.16 L320.49,166.17 L321.49,164.20 L322.52,162.24 L323.56,160.29 L324.63,158.35 L325.72,156.42 L326.84,154.51 L327.98,152.61 L329.15,150.72 L330.34,148.84 L331.55,146.98 L332.80,145.13 L334.07,143.29 L335.36,141.47 L336.69,139.66 L338.04,137.87 L339.42,136.10 L340.83,134.35 L342.26,132.63 L343.71,130.93 L345.19,129.27 L346.69,127.63 L348.21,126.04 L349.75,124.48 L351.32,122.96 L352.90,121.49 L354.50,120.06 L356.12,118.68 L357.76,117.35 L359.41,116.08 L361.08,114.87 L362.76,113.72 L364.46,112.63 L366.17,111.60 L367.89,110.65 L369.62,109.76 L371.37,108.95 L373.12,108.22 L374.88,107.57 L376.65,106.99 L378.43,106.51 L380.22,106.11 L382.01,105.80 L383.80,105.58 L385.60,105.46 L387.40,105.44 L389.21,105.52 L391.02,105.70 L392.83,105.99 L394.63,106.38 L396.44,106.87 L398.25,107.44 L400.05,108.11 L401.84,108.85 L403.63,109.67 L405.42,110.56 L407.19,111.51 L408.96,112.53 L410.71,113.60 L412.46,114.71 L414.19,115.88 L415.91,117.08 L417.61,118.32 L419.30,119.58 L420.96,120.87 L422.62,122.18 L424.25,123.51 L425.86,124.85 L427.46,126.21 L429.05,127.59 L430.62,128.99 L432.17,130.40 L433.71,131.82 L435.23,133.26 L436.74,134.72 L438.24,136.19 L439.73,137.67 L441.21,139.17 L442.67,140.68 L444.13,142.20 L445.58,143.73 L447.01,145.27 L448.44,146.83 L449.86,148.39 L451.28,149.97 L452.69,151.55 L454.09,153.15 L455.48,154.75 L456.87,156.36 L458.25,157.98 L459.62,159.61 L460.99,161.26 L462.34,162.91 L463.69,164.57 L465.03,166.24 L466.36,167.92 L467.68,169.61 L468.99,171.31 L470.30,173.01 L471.59,174.73 L472.87,176.46 L474.14,178.20 L475.40,179.95 L476.65,181.71 L477.88,183.48 L479.11,185.26 L480.32,187.06 L481.52,188.86 L482.71,190.67 L483.89,192.49 L485.05,194.32 L486.20,196.17 L487.34,198.02 L488.46,199.89 L489.57,201.76 L490.66,203.65 L491.74,205.55 L492.80,207.46 L493.85,209.38 L494.88,211.31 L495.90,213.25 L496.90,215.21 L497.88,217.17 L498.85,219.15 L499.80,221.13 L500.73,223.13 L501.64,225.14 L502.54,227.16 L503.42,229.20 L504.28,231.24 L505.12,233.30 L505.95,235.37 L506.75,237.45 L507.54,239.54 L508.30,241.64 L509.05,243.76 L509.77,245.89 L510.48,248.03 L511.16,250.18 L511.82,252.34 L512.46,254.52 L513.09,256.70 L513.69,258.90 L514.28,261.11 L514.85,263.32 L515.41,265.55 L515.95,267.78 L516.47,270.02 L516.98,272.27 L517.48,274.53 L517.96,276.79 L518.43,279.06 L518.89,281.34 L519.34,283.62 L519.78,285.90 L520.21,288.19 L520.63,290.49 L521.04,292.78 L521.44,295.08 L521.84,297.39 L522.23,299.69 L522.61,302.00 L522.99,304.31 L523.37,306.62 L523.74,308.93 L524.11,311.24 L524.48,313.55 L524.84,315.85 L525.21,318.16 L525.57,320.47 L525.94,322.77 L526.31,325.07 L526.67,327.36 L527.04,329.66 L527.42,331.94 L527.80,334.23 L528.18,336.51 L528.56,338.78 L528.94,341.06 L529.33,343.33 L529.71,345.60 L530.10,347.86 L530.49,350.12 L530.88,352.38 L531.27,354.64 L531.65,356.90 L532.04,359.15 L532.43,361.41 L532.81,363.66 L533.20,365.91 L533.58,368.16 L533.96,370.41 L534.34,372.66 L534.71,374.91 L535.08,377.16 L535.45,379.41 L535.81,381.67 L536.17,383.92 L536.53,386.17 L536.88,388.43 L537.23,390.68 L537.57,392.94 L537.90,395.20 L538.23,397.47 L538.55,399.73 L538.86,402.00 L539.17,404.27 L539.47,406.55 L539.76,408.83 L540.05,411.11 L540.33,413.39 L540.59,415.68 L540.85,417.98 L541.10,420.27 L541.34,422.58 L541.58,424.88 L541.80,427.19 L542.02,429.51 L542.23,431.82 L542.44,434.14 L542.64,436.47 L542.83,438.79 L543.03,441.12 L543.21,443.44 L543.40,445.77 L543.58,448.11 L543.76,450.44 L543.93,452.77 L544.11,455.10 L544.29,457.44 L544.46,459.77 L544.64,462.11 L544.81,464.44 L544.99,466.77 L545.17,469.10 L545.35,471.43 L545.54,473.76 L545.73,476.08 L545.92,478.41 L546.12,480.73 L546.32,483.05 L546.53,485.36 L546.75,487.68 L546.97,489.99 L547.20,492.29 L547.44,494.59 L547.68,496.89 L547.94,499.18 L548.20,501.47 L548.47,503.75 L548.75,506.03 L549.04,508.31 L549.34,510.58 L549.64,512.85 L549.95,515.11 L550.27,517.38 L550.59,519.64 L550.91,521.90 L551.24,524.16 L551.57,526.42 L551.90,528.68 L552.24,530.94 L552.57,533.20 L552.91,535.46 L553.25,537.72 L553.59,539.98 L553.92,542.25 L554.26,544.52 L554.59,546.79 L554.92,549.06 L555.25,551.34 L555.58,553.62 L555.90,555.91 L556.21,558.20 L556.53,560.50 L556.84,562.80 L557.17,565.12 L557.50,567.46 L557.85,569.81 L558.21,572.17 L558.60,574.56 L559.01,576.97 L559.45,579.41 L559.92,581.87 L560.42,584.36 L560.97,586.89 L561.55,589.45 L562.19,592.04 L562.86,594.56 L563.56,596.82 L564.28,598.60 L565.01,599.70 L565.72,599.91 L566.41,599.20 L567.08,597.73 L567.73,595.70 L568.35,593.27 L568.93,590.64 L569.49,587.92 L570.02,585.15 L570.53,582.36 L571.02,579.60 L571.50,576.88 L571.96,574.25 L572.42,571.73 L572.87,569.30 L573.31,566.96 L573.75,564.68 L574.18,562.46 L574.61,560.29 L575.03,558.14 L575.45,556.00 L575.86,553.87 L576.28,551.72 L576.69,549.57 L577.09,547.40 L577.49,545.22 L577.89,543.03 L578.29,540.84 L578.69,538.63 L579.08,536.41 L579.47,534.19 L579.86,531.95 L580.24,529.71 L580.62,527.46 L581.01,525.21 L581.38,522.95 L581.76,520.68 L582.14,518.40 L582.51,516.13 L582.88,513.84 L583.25,511.55 L583.62,509.26 L583.99,506.96 L584.35,504.66 L584.72,502.36 L585.08,500.05 L585.44,497.75 L585.80,495.44 L586.16,493.12 L586.52,490.81 L586.88,488.50 L587.24,486.19 L587.60,483.87 L587.95,481.56 L588.31,479.25 L588.67,476.94 L589.02,474.64 L589.38,472.33 L589.73,470.03 L590.09,467.73 L590.45,465.43 L590.80,463.14 L591.16,460.85 L591.52,458.57 L591.87,456.28 L592.23,454.01 L592.59,451.73 L592.94,449.46 L593.30,447.19 L593.66,444.92 L594.02,442.65 L594.37,440.38 L594.73,438.12 L595.09,435.86 L595.45,433.60 L595.80,431.34 L596.16,429.08 L596.52,426.82 L596.88,424.56 L597.23,422.30 L597.59,420.04 L597.95,417.78 L598.30,415.52 L598.66,413.26 L599.01,410.99 L599.37,408.73 L599.73,406.46 L600.08,404.20 L600.44,401.93 L600.79,399.66 L601.15,397.39 L601.50,395.12 L601.86,392.85 L602.21,390.58 L602.57,388.30 L602.92,386.03 L603.28,383.75 L603.63,381.48 L603.99,379.20 L604.35,376.92 L604.70,374.65 L605.06,372.37 L605.42,370.09 L605.78,367.81 L606.14,365.53 L606.50,363.25 L606.86,360.97 L607.22,358.68 L607.58,356.40 L607.94,354.12 L608.31,351.84 L608.67,349.55 L609.03,347.27 L609.40,344.99 L609.77,342.70 L610.13,340.42 L610.50,338.14 L610.87,335.85 L611.24,333.57 L611.62,331.28 L611.99,329.00 L612.36,326.72 L612.74,324.43 L613.12,322.15 L613.50,319.87 L613.88,317.58 L614.26,315.30 L614.64,313.02 L615.03,310.74 L615.41,308.45 L615.80,306.17 L616.19,303.89 L616.58,301.61 L616.97,299.33 L617.37,297.05 L617.76,294.77 L618.16,292.50 L618.56,290.22 L618.97,287.94 L619.37,285.67 L619.78,283.39 L620.18,281.12 L620.60,278.84 L621.01,276.57 L621.42,274.30 L621.84,272.03 L622.26,269.76 L622.68,267.49 L623.11,265.22 L623.53,262.96 L623.96,260.69 L624.39,258.43 L624.83,256.16 L625.26,253.90 L625.70,251.64 L626.14,249.38 L626.59,247.13 L627.04,244.87 L627.49,242.61 L627.94,240.36 L628.39,238.11 L628.85,235.86 L629.31,233.61 L629.78,231.36 L630.25,229.12 L630.72,226.87 L631.19,224.63 L631.67,222.39 L632.15,220.15 L632.63,217.92 L633.12,215.68 L633.61,213.45 L634.10,211.22 L634.60,208.99 L635.10,206.76 L635.60,204.54 L636.11,202.31 L636.62,200.09 L637.14,197.87 L637.65,195.66 L638.18,193.44 L638.70,191.23 L639.23,189.02 L639.76,186.82 L640.30,184.61 L640.84,182.41 L641.39,180.21 L641.93,178.01 L642.49,175.82 L643.04,173.62 L643.61,171.43 L644.17,169.24 L644.75,167.06 L645.32,164.88 L645.91,162.70 L646.50,160.52 L647.11,158.34 L647.72,156.16 L648.34,153.99 L648.97,151.82 L649.62,149.65 L650.27,147.48 L650.94,145.31 L651.62,143.14 L652.32,140.97 L653.03,138.81 L653.76,136.64 L654.50,134.48 L655.26,132.32 L656.03,130.15 L656.83,127.99 L657.64,125.83 L658.47,123.67 L659.32,121.50 L660.19,119.34 L661.09,117.18 L662.01,115.03 L662.95,112.89 L663.91,110.76 L664.90,108.66 L665.92,106.58 L666.97,104.52 L668.05,102.51 L669.15,100.52 L670.29,98.59 L671.46,96.69 L672.67,94.85 L673.91,93.07 L675.18,91.34 L676.50,89.68 L677.85,88.09 L679.24,86.57 L680.67,85.13 L682.14,83.77 L683.66,82.50 L685.22,81.31 L686.82,80.22 L688.46,79.21 L690.14,78.29 L691.85,77.45 L693.60,76.68 L695.38,75.99 L697.19,75.37 L699.02,74.82 L700.88,74.34 L702.76,73.91 L704.66,73.55 L706.58,73.24 L708.51,72.99 L710.45,72.79 L712.41,72.64 L714.38,72.53 L716.35,72.46 L718.33,72.43 L720.30,72.44 L722.28,72.48 L724.26,72.55 L726.23,72.65 L728.19,72.77 L730.15,72.92 L732.09,73.08 L734.03,73.27 L735.96,73.48 L737.89,73.71 L739.81,73.96 L741.71,74.24 L743.62,74.53 L745.51,74.85 L747.40,75.18 L749.29,75.54 L751.17,75.91 L753.04,76.31 L754.91,76.73 L756.77,77.17 L758.63,77.62 L760.48,78.10 L762.33,78.60 L764.18,79.12 L766.02,79.65 L767.86,80.21 L769.70,80.79 L771.53,81.38 L773.36,81.99 L775.19,82.63 L777.01,83.28 L778.84,83.95 L780.66,84.64 L782.48,85.34 L784.30,86.07 L786.12,86.81 L787.94,87.58 L789.76,88.35 L791.57,89.15 L793.38,89.97 L795.19,90.80 L797.00,91.65 L798.80,92.52 L800.60,93.41 L802.40,94.31 L804.19,95.23 L805.98,96.17 L807.77,97.13 L809.55,98.10 L811.32,99.09 L813.09,100.09 L814.85,101.12 L816.61,102.15 L818.36,103.21 L820.10,104.28 L821.84,105.37 L823.57,106.48 L825.29,107.60 L827.01,108.74 L828.71,109.89 L830.41,111.06 L832.10,112.25 L833.78,113.45 L835.45,114.66 L837.10,115.90 L838.75,117.15 L840.39,118.41 L842.02,119.69 L843.64,120.98 L845.25,122.29 L846.84,123.62 L848.43,124.95 L850.00,126.31 L851.56,127.68 L853.11,129.06 L854.65,130.46 L856.18,131.87 L857.69,133.30 L859.20,134.74 L860.70,136.19 L862.18,137.66 L863.65,139.14 L865.11,140.64 L866.56,142.14 L868.00,143.67 L869.43,145.20 L870.85,146.75 L872.26,148.31 L873.66,149.89 L875.04,151.47 L876.42,153.07 L877.78,154.68 L879.14,156.31 L880.48,157.94 L881.81,159.59 L883.13,161.25 L884.44,162.93 L885.75,164.61 L887.04,166.31 L888.31,168.02 L889.58,169.73 L890.84,171.46 L892.09,173.21 L893.33,174.96 L894.55,176.72 L895.77,178.50 L896.98,180.28 L898.17,182.08 L899.36,183.88 L900.54,185.70 L901.70,187.52 L902.86,189.36 L904.00,191.21 L905.13,193.06 L906.26,194.93 L907.37,196.80 L908.48,198.69 L909.57,200.58 L910.66,202.49 L911.73,204.40 L912.79,206.32 L913.85,208.25 L914.89,210.19 L915.93,212.14 L916.95,214.09 L917.96,216.06 L918.97,218.03 L919.96,220.01 L920.95,222.00 L921.92,224.00 L922.89,226.00 L923.84,228.02 L924.79,230.04 L925.73,232.06 L926.65,234.10 L927.57,236.14 L928.48,238.19 L929.37,240.24 L930.26,242.31 L931.14,244.38 L932.01,246.45 L932.87,248.53 L933.72,250.62 L934.56,252.72 L935.39,254.82 L936.21,256.92 L937.02,259.04 L937.83,261.16 L938.62,263.28 L939.40,265.41 L940.18,267.54 L940.95,269.68 L941.70,271.83 L942.45,273.98 L943.19,276.13 L943.92,278.29 L944.64,280.46 L945.35,282.63 L946.05,284.80 L946.74,286.98 L947.43,289.16 L948.10,291.34 L948.77,293.53 L949.42,295.73 L950.07,297.92 L950.71,300.12 L951.34,302.33 L951.96,304.53 L952.57,306.74 L953.18,308.96 L953.77,311.18 L954.36,313.39 L954.94,315.62 L955.51,317.84 L956.08,320.07 L956.63,322.30 L957.18,324.54 L957.72,326.77 L958.25,329.01 L958.77,331.25 L959.29,333.50 L959.80,335.74 L960.30,337.99 L960.80,340.24 L961.29,342.49 L961.77,344.74 L962.25,347.00 L962.72,349.26 L963.18,351.52 L963.64,353.78 L964.09,356.04 L964.53,358.30 L964.97,360.57 L965.40,362.84 L965.83,365.10 L966.25,367.37 L966.66,369.64 L967.07,371.91 L967.48,374.19 L967.88,376.46 L968.27,378.73 L968.66,381.01 L969.04,383.28 L969.42,385.56 L969.80,387.84 L970.17,390.11 L970.53,392.39 L970.89,394.67 L971.25,396.94 L971.60,399.22 L971.95,401.50 L972.30,403.78 L972.64,406.05 L972.98,408.33 L973.31,410.61 L973.64,412.88 L973.97,415.16 L974.29,417.44 L974.62,419.71 L974.93,421.99 L975.25,424.26 L975.56,426.54 L975.87,428.81 L976.18,431.08 L976.48,433.36 L976.78,435.63 L977.08,437.91 L977.38,440.18 L977.67,442.45 L977.96,444.73 L978.25,447.00 L978.54,449.27 L978.82,451.55 L979.11,453.82 L979.39,456.09 L979.67,458.37 L979.95,460.64 L980.23,462.92 L980.50,465.19 L980.77,467.47 L981.05,469.74 L981.32,472.02 L981.59,474.29 L981.86,476.57 L982.12,478.85 L982.39,481.13 L982.66,483.40 L982.92,485.68 L983.19,487.96 L983.45,490.24 L983.71,492.52 L983.97,494.81 L984.24,497.09 L984.50,499.37 L984.76,501.66 L985.02,503.94 L985.28,506.23 L985.55,508.51 L985.81,510.80 L986.07,513.09 L986.33,515.38 L986.59,517.67 L986.86,519.96 L987.12,522.26 L987.38,524.55 L987.65,526.84 L987.91,529.14 L988.18,531.44 L988.45,533.74 L988.72,536.04 L988.98,538.34 L989.26,540.64 L989.53,542.95 L989.80,545.26 L990.07,547.56 L990.35,549.87 L990.63,552.18 L990.91,554.50 L991.19,556.81 L991.47,559.13 L991.75,561.44 L992.04,563.76 L992.33,566.08 L992.62,568.41 L992.91,570.73 L993.21,573.06 L993.51,575.39 L993.81,577.72 L994.11,580.05 L994.41,582.38 L994.72,584.72 L995.03,587.06 L995.35,589.40 L995.66,591.74 L995.98,594.09 L996.30,596.43 L996.63,598.78 L996.96,601.13 L997.29,603.49 L997.63,605.84 L997.97,608.20 L998.31,610.56 L998.66,612.93 L999.01,615.29 L999.36,617.66 L999.72,620.03 L1000.08,622.41 L1000.45,624.78 L1000.82,627.16 L1001.19,629.54 L1001.57,631.93 L1001.96,634.32 L1002.34,636.71 L1002.74,639.10 L1003.13,641.49 L1003.53,643.88 L1003.94,646.20 L1004.35,648.33 L1004.76,650.19 L1005.18,651.67 L1005.60,652.67 L1006.02,653.08 L1006.44,652.84 L1006.86,651.96 L1007.29,650.56 L1007.73,648.75 L1008.18,646.63 L1008.64,644.32 L1009.12,641.91 L1009.62,639.50 L1010.13,637.09 L1010.65,634.70 L1011.17,632.31 L1011.69,629.94 L1012.21,627.58 L1012.71,625.23 L1013.20,622.89 L1013.67,620.57 L1014.13,618.25 L1014.58,615.95 L1015.02,613.66 L1015.45,611.38 L1015.87,609.10 L1016.28,606.84 L1016.68,604.58 L1017.08,602.32 L1017.48,600.07 L1017.87,597.83 L1018.26,595.59 L1018.65,593.35 L1019.04,591.11 L1019.43,588.88 L1019.83,586.65 L1020.23,584.41 L1020.63,582.17 L1021.04,579.94 L1021.46,577.70 L1021.88,575.45 L1022.31,573.21 L1022.75,570.96 L1023.20,568.71 L1023.65,566.46 L1024.11,564.21 L1024.58,561.96 L1025.05,559.71 L1025.53,557.45 L1026.02,555.20 L1026.52,552.95 L1027.02,550.70 L1027.53,548.45 L1028.04,546.20 L1028.56,543.95 L1029.09,541.71 L1029.62,539.47 L1030.16,537.23 L1030.71,534.99 L1031.26,532.75 L1031.82,530.52 L1032.39,528.30 L1032.96,526.07 L1033.54,523.85 L1034.12,521.64 L1034.71,519.43 L1035.31,517.23 L1035.94,515.03 L1036.59,512.86 L1037.28,510.70 L1038.02,508.56 L1038.81,506.45 L1039.67,504.36 L1040.60,502.31 L1041.62,500.30 L1042.73,498.32 L1043.94,496.39 L1045.25,494.51 L1046.66,492.73 L1048.15,491.13 L1049.70,489.78 L1051.30,488.73 L1052.93,488.05 L1054.57,487.82 L1056.20,488.10 L1057.82,488.87 L1059.40,490.02 L1060.93,491.46 L1062.39,493.06 L1063.77,494.75 L1065.07,496.51 L1066.30,498.33 L1067.47,500.21 L1068.56,502.14 L1069.61,504.12 L1070.59,506.14 L1071.53,508.20 L1072.42,510.29 L1073.28,512.40 L1074.10,514.54 L1074.89,516.69 L1075.65,518.85 L1076.40,521.01 L1077.12,523.18 L1077.82,525.36 L1078.51,527.54 L1079.17,529.73 L1079.82,531.92 L1080.45,534.12 L1081.06,536.32 L1081.66,538.53 L1082.25,540.74 L1082.81,542.95 L1083.37,545.17 L1083.91,547.39 L1084.44,549.62 L1084.96,551.84 L1085.46,554.08 L1085.96,556.31 L1086.44,558.55 L1086.92,560.79 L1087.39,563.03 L1087.85,565.27 L1088.30,567.52 L1088.75,569.76 L1089.19,572.01 L1089.63,574.26 L1090.07,576.51 L1090.49,578.76 L1090.92,581.02 L1091.35,583.27 L1091.77,585.52 L1092.19,587.78 L1092.61,590.03 L1093.03,592.29 L1093.45,594.54 L1093.87,596.80 L1094.28,599.06 L1094.69,601.32 L1095.09,603.58 L1095.50,605.84 L1095.89,608.10 L1096.29,610.37 L1096.67,612.64 L1097.06,614.91 L1097.43,617.18 L1097.80,619.45 L1098.16,621.73 L1098.52,624.01 L1098.86,626.30 L1099.20,628.59 L1099.53,630.88 L1099.85,633.17 L1100.16,635.47 L1100.46,637.78 L1100.75,640.09 L1101.03,642.40 L1101.30,644.71 L1101.55,647.04 L1101.80,649.36 L1102.03,651.70 L1102.25,654.03 L1102.45,656.38 L1102.65,658.73 L1102.84,661.08 L1103.05,663.43 L1103.29,665.77 L1103.57,668.11 L1103.91,670.43 L1104.31,672.73 L1104.80,675.02 L1105.38,677.28 L1106.07,679.52 L1106.89,681.73 L1107.85,683.90 L1108.95,686.03 L1110.21,688.09 L1111.56,689.98 L1112.97,691.60 L1114.38,692.84 L1115.75,693.60 L1117.04,693.78 L1118.20,693.33 L1119.25,692.32 L1120.20,690.84 L1121.07,688.98 L1121.86,686.83 L1122.59,684.48 L1123.28,682.03 L1123.94,679.55 L1124.56,677.10 L1125.16,674.66 L1125.74,672.24 L1126.29,669.84 L1126.82,667.46 L1127.33,665.08 L1127.82,662.73 L1128.29,660.38 L1128.74,658.05 L1129.17,655.73 L1129.59,653.42 L1129.99,651.12 L1130.38,648.84 L1130.75,646.56 L1131.11,644.28 L1131.47,642.02 L1131.81,639.76 L1132.14,637.51 L1132.47,635.26 L1132.79,633.02 L1133.10,630.78 L1133.41,628.55 L1133.72,626.31 L1134.02,624.08 L1134.33,621.85 L1134.63,619.62 L1134.94,617.38 L1135.24,615.15 L1135.55,612.91 L1135.87,610.67 L1136.19,608.42 L1136.52,606.17 L1136.85,603.92 L1137.19,601.66 L1137.55,599.39 L1137.91,597.11 L1138.29,594.83 L1138.67,592.54 L1139.06,590.24 L1139.45,587.94 L1139.85,585.63 L1140.25,583.32 L1140.66,581.00 L1141.06,578.69 L1141.46,576.37 L1141.86,574.04 L1142.25,571.72 L1142.64,569.40 L1143.02,567.08 L1143.39,564.76 L1143.74,562.44 L1144.09,560.12 L1144.42,557.81 L1144.74,555.50 L1145.04,553.20 L1145.32,550.90 L1145.58,548.61 L1145.82,546.32 L1146.03,544.05 L1146.23,541.78 L1146.39,539.52 L1146.53,537.27 L1146.64,535.02" class="cr"/>
<path d="M130.35,262.19 L130.89,259.63 L131.45,257.09 L132.02,254.58 L132.61,252.09 L133.21,249.62 L133.83,247.18 L134.46,244.75 L135.10,242.34 L135.75,239.95 L136.40,237.57 L137.07,235.21 L137.74,232.86 L138.42,230.52 L139.10,228.19 L139.79,225.87 L140.48,223.55 L141.18,221.24 L141.87,218.94 L142.57,216.63 L143.27,214.33 L143.96,212.02 L144.65,209.71 L145.34,207.40 L146.03,205.09 L146.71,202.77 L147.38,200.43 L148.05,198.10 L148.71,195.74 L149.36,193.38 L150.00,191.01 L150.62,188.61 L151.24,186.21 L151.85,183.78 L152.44,181.34 L153.02,178.87 L153.59,176.40 L154.15,173.91 L154.71,171.40 L155.26,168.89 L155.81,166.38 L156.37,163.86 L156.93,161.34 L157.49,158.82 L158.06,156.30 L158.64,153.79 L159.23,151.29 L159.83,148.79 L160.45,146.31 L161.09,143.85 L161.75,141.40 L162.43,138.97 L163.13,136.56 L163.86,134.17 L164.62,131.81 L165.41,129.48 L166.23,127.18 L167.09,124.91 L167.98,122.68 L168.92,120.49 L169.89,118.33 L170.91,116.22 L171.97,114.15 L173.08,112.13 L174.24,110.16 L175.45,108.23 L176.72,106.37 L178.04,104.55 L179.42,102.80 L180.86,101.11 L182.36,99.47 L183.92,97.91 L185.54,96.41 L187.20,94.98 L188.92,93.63 L190.68,92.35 L192.49,91.14 L194.34,90.02 L196.22,88.98 L198.14,88.02 L200.10,87.15 L202.08,86.37 L204.09,85.69 L206.12,85.09 L208.17,84.60 L210.25,84.20 L212.33,83.91 L214.43,83.72 L216.54,83.63 L218.65,83.60 L220.75,83.56 L222.84,83.42 L224.89,83.12 L226.91,82.57 L228.88,81.70 L230.79,80.51 L232.68,79.09 L234.54,77.56 L236.39,76.01 L238.26,74.55 L240.15,73.29 L242.07,72.30 L244.01,71.58 L245.98,71.11 L247.96,70.89 L249.93,70.89 L251.91,71.11 L253.86,71.53 L255.80,72.14 L257.71,72.93 L259.57,73.87 L261.39,74.96 L263.16,76.19 L264.86,77.54 L266.50,78.99 L268.06,80.55 L269.57,82.21 L271.01,83.95 L272.40,85.78 L273.73,87.69 L275.01,89.67 L276.25,91.71 L277.43,93.81 L278.58,95.96 L279.69,98.16 L280.76,100.40 L281.80,102.68 L282.80,104.98 L283.79,107.31 L284.75,109.65 L285.68,111.99 L286.60,114.35 L287.51,116.70 L288.41,119.03 L289.29,121.36 L290.17,123.66 L291.05,125.94 L291.93,128.18 L292.81,130.40 L293.70,132.60 L294.59,134.79 L295.48,136.96 L296.38,139.13 L297.28,141.30 L298.20,143.47 L299.12,145.65 L300.06,147.85 L301.01,150.06 L301.97,152.30 L302.94,154.57 L303.93,156.87 L304.95,159.18 L306.00,161.47 L307.09,163.71 L308.24,165.85 L309.46,167.88 L310.75,169.74 L312.14,171.41 L313.63,172.86 L315.23,174.04 L316.95,174.93 L318.79,175.52 L320.75,175.86 L322.79,176.00 L324.89,176.00 L327.05,175.90 L329.24,175.76 L331.44,175.63 L333.64,175.56 L335.81,175.60 L337.94,175.81 L340.01,176.23 L342.02,176.86 L343.97,177.69 L345.85,178.70 L347.69,179.87 L349.47,181.18 L351.20,182.61 L352.89,184.15 L354.53,185.78 L356.13,187.49 L357.70,189.24 L359.23,191.03 L360.72,192.85 L362.19,194.66 L363.63,196.49 L365.05,198.33 L366.45,200.19 L367.85,202.06 L369.24,203.95 L370.63,205.84 L372.05,207.69 L373.52,209.48 L375.04,211.16 L376.64,212.73 L378.32,214.14 L380.07,215.38 L381.91,216.44 L383.83,217.28 L385.84,217.90 L387.93,218.31 L390.07,218.57 L392.25,218.72 L394.45,218.82 L396.66,218.91 L398.85,219.06 L401.00,219.29 L403.13,219.63 L405.21,220.06 L407.26,220.59 L409.28,221.22 L411.25,221.94 L413.19,222.74 L415.10,223.64 L416.97,224.62 L418.79,225.68 L420.59,226.82 L422.34,228.04 L424.06,229.33 L425.74,230.70 L427.38,232.14 L428.98,233.64 L430.54,235.21 L432.06,236.85 L433.55,238.54 L434.99,240.29 L436.40,242.10 L437.77,243.97 L439.09,245.88 L440.38,247.84 L441.63,249.85 L442.83,251.91 L444.00,254.00 L445.13,256.13 L446.22,258.30 L447.28,260.50 L448.32,262.72 L449.33,264.96 L450.33,267.23 L451.31,269.50 L452.28,271.78 L453.25,274.07 L454.21,276.36 L455.18,278.64 L456.15,280.91 L457.13,283.18 L458.12,285.42 L459.13,287.65 L460.17,289.84 L461.23,292.01 L462.32,294.15 L463.44,296.25 L464.60,298.31 L465.80,300.32 L467.05,302.27 L468.35,304.18 L469.70,306.03 L471.11,307.81 L472.59,309.52 L474.12,311.17 L475.71,312.76 L477.34,314.30 L479.02,315.79 L480.74,317.23 L482.49,318.65 L484.27,320.04 L486.06,321.40 L487.87,322.75 L489.69,324.10 L491.51,325.44 L493.33,326.79 L495.14,328.15 L496.93,329.53 L498.71,330.93 L500.46,332.36 L502.18,333.82 L503.88,335.31 L505.54,336.83 L507.18,338.38 L508.79,339.96 L510.36,341.57 L511.90,343.22 L513.40,344.90 L514.87,346.62 L516.29,348.37 L517.68,350.16 L519.02,351.99 L520.31,353.86 L521.56,355.76 L522.77,357.71 L523.93,359.69 L525.05,361.71 L526.12,363.77 L527.16,365.86 L528.16,367.98 L529.12,370.13 L530.04,372.31 L530.93,374.53 L531.78,376.76 L532.60,379.03 L533.39,381.32 L534.15,383.63 L534.88,385.97 L535.58,388.32 L536.26,390.70 L536.91,393.09 L537.53,395.51 L538.14,397.93 L538.72,400.37 L539.28,402.83 L539.82,405.30 L540.35,407.78 L540.86,410.26 L541.35,412.76 L541.83,415.26 L542.30,417.77 L542.75,420.28 L543.20,422.80 L543.63,425.31 L544.06,427.83 L544.48,430.35 L544.90,432.86 L545.31,435.38 L545.72,437.88 L546.13,440.39 L546.53,442.88 L546.94,445.38 L547.33,447.87 L547.73,450.36 L548.12,452.84 L548.51,455.32 L548.90,457.80 L549.29,460.28 L549.67,462.75 L550.05,465.22 L550.42,467.68 L550.80,470.15 L551.17,472.61 L551.54,475.07 L551.90,477.53 L552.27,479.99 L552.63,482.44 L552.98,484.90 L553.34,487.35 L553.69,489.80 L554.04,492.26 L554.39,494.71 L554.73,497.16 L555.07,499.61 L555.41,502.06 L555.75,504.51 L556.08,506.96 L556.41,509.41 L556.74,511.87 L557.07,514.32 L557.39,516.77 L557.71,519.23 L558.03,521.68 L558.34,524.14 L558.65,526.60 L558.96,529.06 L559.27,531.53 L559.58,533.99 L559.88,536.46 L560.18,538.93 L560.48,541.40 L560.77,543.88 L561.06,546.36 L561.35,548.84 L561.64,551.32 L561.93,553.81 L562.21,556.30 L562.49,558.80 L562.77,561.30 L563.04,563.80 L563.31,566.31 L563.58,568.82 L563.85,571.34 L564.12,573.86 L564.38,576.39 L564.64,578.91 L564.90,581.44 L565.16,583.97 L565.42,586.50 L565.68,589.02 L565.94,591.55 L566.20,594.06 L566.46,596.58 L566.72,599.09 L566.98,601.59 L567.24,604.09 L567.51,606.58 L567.78,609.06 L568.05,611.52 L568.32,613.98 L568.60,616.43 L568.88,618.86 L569.16,621.28 L569.45,623.69 L569.74,626.07 L570.04,628.45 L570.34,630.81 L570.65,633.17 L570.96,635.55 L571.28,637.96 L571.62,640.42 L571.96,642.95 L572.31,645.57 L572.67,648.28 L573.05,651.11 L573.43,654.08 L573.83,657.19 L574.25,660.43 L574.69,663.68 L575.14,666.81 L575.62,669.71 L576.12,672.24 L576.66,674.29 L577.22,675.72 L577.81,676.43 L578.45,676.28 L579.11,675.30 L579.79,673.63 L580.47,671.40 L581.15,668.76 L581.80,665.83 L582.43,662.76 L583.01,659.69 L583.53,656.71 L584.01,653.83 L584.45,651.04 L584.84,648.34 L585.21,645.70 L585.56,643.12 L585.88,640.60 L586.20,638.11 L586.51,635.65 L586.81,633.20 L587.13,630.77 L587.45,628.33 L587.78,625.90 L588.12,623.47 L588.46,621.04 L588.81,618.61 L589.17,616.18 L589.53,613.75 L589.89,611.32 L590.26,608.89 L590.63,606.45 L591.00,604.02 L591.37,601.58 L591.75,599.15 L592.12,596.71 L592.49,594.27 L592.86,591.82 L593.23,589.37 L593.60,586.92 L593.96,584.47 L594.31,582.01 L594.66,579.54 L595.01,577.08 L595.35,574.60 L595.69,572.13 L596.02,569.65 L596.34,567.16 L596.66,564.68 L596.98,562.19 L597.30,559.69 L597.62,557.20 L597.93,554.70 L598.24,552.20 L598.55,549.70 L598.86,547.20 L599.18,544.69 L599.49,542.19 L599.80,539.68 L600.12,537.18 L600.44,534.67 L600.76,532.16 L601.09,529.66 L601.42,527.16 L601.75,524.65 L602.09,522.15 L602.43,519.65 L602.78,517.15 L603.14,514.66 L603.50,512.16 L603.87,509.67 L604.25,507.18 L604.64,504.70 L605.04,502.22 L605.45,499.74 L605.86,497.27 L606.29,494.80 L606.73,492.33 L607.18,489.88 L607.64,487.42 L608.11,484.97 L608.60,482.53 L609.10,480.09 L609.62,477.66 L610.15,475.24 L610.69,472.82 L611.25,470.41 L611.83,468.01 L612.42,465.61 L613.03,463.22 L613.66,460.85 L614.30,458.48 L614.97,456.12 L615.66,453.77 L616.37,451.44 L617.11,449.12 L617.87,446.82 L618.66,444.53 L619.47,442.26 L620.31,440.00 L621.18,437.77 L622.09,435.56 L623.02,433.37 L623.99,431.20 L624.99,429.05 L626.03,426.93 L627.10,424.83 L628.21,422.77 L629.36,420.73 L630.55,418.71 L631.78,416.73 L633.06,414.78 L634.38,412.86 L635.74,410.98 L637.14,409.12 L638.60,407.31 L640.10,405.53 L641.65,403.79 L643.26,402.08 L644.91,400.42 L646.61,398.80 L648.35,397.22 L650.13,395.70 L651.96,394.23 L653.81,392.83 L655.70,391.48 L657.62,390.19 L659.57,388.98 L661.54,387.83 L663.53,386.77 L665.54,385.78 L667.56,384.87 L669.60,384.05 L671.64,383.32 L673.69,382.68 L675.74,382.13 L677.80,381.69 L679.85,381.35 L681.89,381.12 L683.93,380.99 L685.95,380.98 L687.96,381.09 L689.96,381.32 L691.93,381.67 L693.88,382.15 L695.81,382.75 L697.72,383.45 L699.61,384.26 L701.48,385.16 L703.35,386.14 L705.20,387.20 L707.04,388.32 L708.87,389.50 L710.69,390.72 L712.51,391.99 L714.33,393.28 L716.15,394.60 L717.97,395.92 L719.79,397.26 L721.61,398.58 L723.44,399.89 L725.29,401.18 L727.14,402.43 L729.00,403.65 L730.88,404.81 L732.77,405.92 L734.68,406.96 L736.61,407.92 L738.56,408.79 L740.54,409.58 L742.54,410.26 L744.56,410.83 L746.61,411.29 L748.66,411.64 L750.72,411.88 L752.79,412.00 L754.85,412.01 L756.91,411.90 L758.95,411.68 L760.98,411.33 L762.98,410.86 L764.96,410.27 L766.90,409.55 L768.82,408.72 L770.70,407.78 L772.57,406.75 L774.41,405.63 L776.23,404.44 L778.03,403.18 L779.82,401.86 L781.60,400.49 L783.37,399.09 L785.14,397.67 L786.90,396.22 L788.66,394.77 L790.43,393.32 L792.19,391.88 L793.96,390.45 L795.74,389.02 L797.52,387.62 L799.30,386.23 L801.09,384.86 L802.89,383.51 L804.70,382.18 L806.51,380.88 L808.33,379.61 L810.16,378.37 L812.00,377.16 L813.85,375.99 L815.72,374.85 L817.59,373.76 L819.47,372.71 L821.37,371.70 L823.28,370.75 L825.20,369.84 L827.14,368.98 L829.09,368.18 L831.06,367.44 L833.04,366.76 L835.04,366.13 L837.05,365.58 L839.09,365.09 L841.14,364.66 L843.20,364.30 L845.28,363.99 L847.37,363.74 L849.48,363.53 L851.59,363.37 L853.70,363.25 L855.83,363.16 L857.95,363.11 L860.08,363.08 L862.21,363.08 L864.34,363.09 L866.47,363.12 L868.59,363.16 L870.71,363.21 L872.82,363.26 L874.92,363.30 L877.01,363.34 L879.09,363.37 L881.15,363.38 L883.20,363.38 L885.23,363.35 L887.24,363.29 L889.24,363.20 L891.22,363.08 L893.19,362.93 L895.16,362.75 L897.13,362.53 L899.11,362.28 L901.11,362.00 L903.12,361.69 L905.16,361.34 L907.23,360.96 L909.34,360.55 L911.49,360.10 L913.67,359.63 L915.90,359.15 L918.14,358.67 L920.40,358.21 L922.67,357.78 L924.93,357.41 L927.18,357.11 L929.41,356.88 L931.61,356.75 L933.77,356.74 L935.88,356.85 L937.94,357.11 L939.94,357.51 L941.89,358.04 L943.78,358.71 L945.62,359.51 L947.40,360.42 L949.14,361.46 L950.82,362.61 L952.46,363.86 L954.04,365.22 L955.59,366.67 L957.08,368.22 L958.53,369.85 L959.94,371.56 L961.30,373.36 L962.63,375.22 L963.91,377.15 L965.16,379.15 L966.37,381.20 L967.54,383.30 L968.67,385.45 L969.78,387.64 L970.85,389.86 L971.88,392.12 L972.89,394.41 L973.87,396.72 L974.81,399.04 L975.74,401.38 L976.63,403.72 L977.50,406.07 L978.34,408.42 L979.16,410.78 L979.96,413.15 L980.73,415.52 L981.48,417.89 L982.21,420.28 L982.92,422.66 L983.61,425.05 L984.27,427.45 L984.92,429.85 L985.55,432.25 L986.16,434.66 L986.75,437.07 L987.32,439.49 L987.88,441.91 L988.42,444.34 L988.95,446.77 L989.46,449.20 L989.96,451.63 L990.44,454.07 L990.91,456.51 L991.37,458.96 L991.82,461.40 L992.25,463.85 L992.68,466.30 L993.09,468.76 L993.50,471.22 L993.89,473.67 L994.28,476.14 L994.66,478.60 L995.03,481.06 L995.40,483.53 L995.76,486.00 L996.12,488.46 L996.47,490.93 L996.81,493.41 L997.16,495.88 L997.50,498.35 L997.83,500.82 L998.17,503.30 L998.51,505.77 L998.84,508.25 L999.17,510.72 L999.51,513.19 L999.85,515.67 L1000.18,518.14 L1000.52,520.62 L1000.87,523.09 L1001.22,525.56 L1001.57,528.03 L1001.92,530.50 L1002.28,532.97 L1002.65,535.44 L1003.02,537.91 L1003.39,540.38 L1003.76,542.84 L1004.14,545.31 L1004.52,547.78 L1004.90,550.24 L1005.28,552.71 L1005.67,555.17 L1006.05,557.64 L1006.44,560.11 L1006.82,562.57 L1007.21,565.04 L1007.59,567.51 L1007.97,569.97 L1008.35,572.44 L1008.73,574.91 L1009.11,577.38 L1009.48,579.85 L1009.85,582.32 L1010.22,584.79 L1010.58,587.27 L1010.94,589.74 L1011.29,592.22 L1011.64,594.70 L1011.98,597.18 L1012.32,599.66 L1012.65,602.14 L1012.98,604.63 L1013.29,607.11 L1013.60,609.60 L1013.91,612.09 L1014.20,614.59 L1014.49,617.08 L1014.76,619.58 L1015.03,622.08 L1015.29,624.58 L1015.54,627.09 L1015.78,629.60 L1016.00,632.11 L1016.22,634.63 L1016.44,637.15 L1016.66,639.69 L1016.90,642.24 L1017.17,644.83 L1017.47,647.44 L1017.82,650.09 L1018.23,652.79 L1018.70,655.53 L1019.25,658.32 L1019.87,661.07 L1020.55,663.65 L1021.28,665.95 L1022.05,667.85 L1022.85,669.22 L1023.68,669.94 L1024.51,669.89 L1025.35,669.09 L1026.17,667.66 L1026.97,665.71 L1027.74,663.37 L1028.46,660.76 L1029.12,658.01 L1029.71,655.23 L1030.24,652.51 L1030.69,649.83 L1031.10,647.20 L1031.46,644.60 L1031.79,642.04 L1032.09,639.50 L1032.37,636.97 L1032.65,634.45 L1032.93,631.94 L1033.21,629.43 L1033.50,626.93 L1033.80,624.43 L1034.10,621.93 L1034.40,619.43 L1034.71,616.93 L1035.02,614.44 L1035.34,611.95 L1035.66,609.46 L1035.98,606.98 L1036.31,604.49 L1036.65,602.01 L1036.99,599.53 L1037.33,597.06 L1037.67,594.58 L1038.02,592.11 L1038.38,589.63 L1038.74,587.16 L1039.10,584.69 L1039.46,582.23 L1039.83,579.76 L1040.20,577.29 L1040.58,574.83 L1040.96,572.37 L1041.34,569.91 L1041.73,567.44 L1042.12,564.99 L1042.51,562.53 L1042.91,560.07 L1043.30,557.61 L1043.71,555.15 L1044.11,552.70 L1044.52,550.24 L1044.93,547.79 L1045.34,545.33 L1045.76,542.88 L1046.18,540.43 L1046.60,537.97 L1047.02,535.52 L1047.45,533.07 L1047.88,530.61 L1048.31,528.16 L1048.74,525.71 L1049.18,523.26 L1049.62,520.81 L1050.06,518.35 L1050.50,515.90 L1050.94,513.45 L1051.39,511.00 L1051.84,508.55 L1052.29,506.10 L1052.74,503.65 L1053.19,501.20 L1053.65,498.75 L1054.11,496.30 L1054.57,493.86 L1055.03,491.41 L1055.49,488.96 L1055.95,486.51 L1056.42,484.06 L1056.89,481.61 L1057.35,479.17 L1057.82,476.72 L1058.29,474.27 L1058.77,471.82 L1059.24,469.38 L1059.71,466.93 L1060.19,464.48 L1060.67,462.04 L1061.14,459.59 L1061.62,457.14 L1062.10,454.70 L1062.58,452.25 L1063.06,449.80 L1063.54,447.36 L1064.02,444.91 L1064.50,442.46 L1064.99,440.02 L1065.47,437.57 L1065.95,435.13 L1066.44,432.68 L1066.92,430.23 L1067.40,427.79 L1067.89,425.34 L1068.37,422.90 L1068.86,420.45 L1069.34,418.00 L1069.83,415.56 L1070.31,413.11 L1070.80,410.67 L1071.28,408.22 L1071.76,405.78 L1072.25,403.33 L1072.73,400.88 L1073.21,398.44 L1073.70,395.99 L1074.18,393.54 L1074.66,391.10 L1075.14,388.65 L1075.62,386.20 L1076.10,383.76 L1076.58,381.31 L1077.06,378.86 L1077.53,376.42 L1078.01,373.97 L1078.49,371.52 L1078.96,369.07 L1079.43,366.63 L1079.91,364.18 L1080.38,361.73 L1080.85,359.28 L1081.31,356.83 L1081.78,354.39 L1082.25,351.94 L1082.71,349.49 L1083.18,347.04 L1083.66,344.60 L1084.13,342.16 L1084.61,339.71 L1085.10,337.28 L1085.60,334.84 L1086.10,332.41 L1086.61,329.98 L1087.14,327.56 L1087.68,325.15 L1088.23,322.73 L1088.79,320.33 L1089.37,317.93 L1089.97,315.54 L1090.58,313.15 L1091.22,310.78 L1091.87,308.41 L1092.54,306.05 L1093.24,303.70 L1093.96,301.36 L1094.71,299.03 L1095.48,296.70 L1096.28,294.39 L1097.10,292.10 L1097.96,289.81 L1098.84,287.53 L1099.75,285.27 L1100.68,283.02 L1101.64,280.77 L1102.61,278.54 L1103.60,276.31 L1104.61,274.10 L1105.64,271.89 L1106.68,269.69 L1107.73,267.50 L1108.78,265.31 L1109.85,263.13 L1110.92,260.96 L1112.00,258.79 L1113.08,256.63 L1114.16,254.47 L1115.23,252.32 L1116.31,250.17 L1117.38,248.02 L1118.45,245.88 L1119.52,243.74 L1120.59,241.60 L1121.66,239.47 L1122.73,237.34 L1123.81,235.21 L1124.88,233.08 L1125.96,230.96 L1127.04,228.84 L1128.12,226.72 L1129.20,224.60 L1130.29,222.49 L1131.39,220.37 L1132.49,218.26 L1133.59,216.15 L1134.71,214.04 L1135.83,211.93 L1136.95,209.82 L1138.09,207.71 L1139.23,205.60 L1140.38,203.49 L1141.54,201.39 L1142.71,199.28 L1143.89,197.17 L1145.08,195.06" class="cb"/>
</g>
<rect x="149.4" y="258.4" width="19.8" height="17.3" fill="#0000ff"/>
<rect x="177.7" y="158.3" width="19.8" height="17.3" fill="#0000ff"/>
<rect x="206.6" y="91.4" width="19.8" height="17.3" fill="#0000ff"/>
<rect x="235.6" y="77.5" width="19.8" height="17.3" fill="#0000ff"/>
<rect x="264.1" y="74.3" width="19.8" height="17.3" fill="#0000ff"/>
<rect x="293.1" y="62.1" width="19.8" height="17.3" fill="#0000ff"/>
<rect x="323.6" y="88.2" width="19.8" height="17.3" fill="#0000ff"/>
<rect x="353.1" y="147.3" width="19.8" height="17.3" fill="#0000ff"/>
<rect x="382.0" y="166.3" width="19.8" height="17.3" fill="#0000ff"/>
<rect x="410.5" y="173.8" width="19.8" height="17.3" fill="#0000ff"/>
<rect x="439.7" y="202.7" width="19.8" height="17.3" fill="#0000ff"/>
<rect x="468.6" y="211.8" width="19.8" height="17.3" fill="#0000ff"/>
<rect x="498.3" y="219.9" width="19.8" height="17.3" fill="#0000ff"/>
<rect x="528.4" y="257.2" width="19.8" height="17.3" fill="#0000ff"/>
<rect x="557.1" y="299.5" width="19.8" height="17.3" fill="#0000ff"/>
<rect x="586.1" y="322.7" width="19.8" height="17.3" fill="#0000ff"/>
<rect x="614.6" y="345.6" width="19.8" height="17.3" fill="#0000ff"/>
<rect x="644.7" y="426.2" width="19.8" height="17.3" fill="#0000ff"/>
<rect x="675.1" y="619.6" width="19.8" height="17.3" fill="#0000ff"/>
<rect x="704.0" y="570.6" width="19.8" height="17.3" fill="#0000ff"/>
<rect x="733.0" y="434.4" width="19.8" height="17.3" fill="#0000ff"/>
<rect x="761.9" y="394.1" width="19.8" height="17.3" fill="#0000ff"/>
<rect x="790.5" y="376.9" width="19.8" height="17.3" fill="#0000ff"/>
<rect x="820.3" y="372.2" width="19.8" height="17.3" fill="#0000ff"/>
<rect x="850.4" y="385.7" width="19.8" height="17.3" fill="#0000ff"/>
<rect x="879.3" y="402.2" width="19.8" height="17.3" fill="#0000ff"/>
<rect x="908.3" y="402.2" width="19.8" height="17.3" fill="#0000ff"/>
<rect x="937.3" y="385.7" width="19.8" height="17.3" fill="#0000ff"/>
<rect x="966.0" y="368.2" width="19.8" height="17.3" fill="#0000ff"/>
<rect x="995.9" y="357.2" width="19.8" height="17.3" fill="#0000ff"/>
<rect x="1025.9" y="353.6" width="19.8" height="17.3" fill="#0000ff"/>
<rect x="1054.5" y="355.7" width="19.8" height="17.3" fill="#0000ff"/>
<rect x="1083.4" y="351.4" width="19.8" height="17.3" fill="#0000ff"/>
<rect x="1112.4" y="347.9" width="19.8" height="17.3" fill="#0000ff"/>
<rect x="1141.7" y="360.7" width="19.8" height="17.3" fill="#0000ff"/>
<rect x="1172.5" y="425.1" width="19.8" height="17.3" fill="#0000ff"/>
<rect x="1201.6" y="573.1" width="19.8" height="17.3" fill="#0000ff"/>
<rect x="1229.9" y="625.4" width="19.8" height="17.3" fill="#0000ff"/>
<rect x="1257.8" y="474.2" width="19.8" height="17.3" fill="#0000ff"/>
<rect x="1287.9" y="347.8" width="19.8" height="17.3" fill="#0000ff"/>
<rect x="1318.0" y="264.1" width="19.8" height="17.3" fill="#0000ff"/>
<rect x="1348.0" y="213.2" width="19.8" height="17.3" fill="#0000ff"/>
</g>
<line x1="153" y1="322.4" x2="1378" y2="322.4" stroke="#000" stroke-width="5.2"/>
<rect x="725" y="634.7" width="652.6" height="150.8" fill="#fff" stroke="#000" stroke-width="2.4"/>
<line x1="753.5" y1="664.8" x2="859.5" y2="664.8" class="lg" stroke="#00ff00" stroke-dasharray="31.6 19.1 5.6 21.3 40"/>
<line x1="753.5" y1="713.8" x2="859.5" y2="713.8" class="lg" stroke="#ff0000"/>
<line x1="753.5" y1="762.9" x2="859.5" y2="762.9" class="lg" stroke="#0000ff"/>
<rect x="794.5" y="753.9" width="18.4" height="15.6" fill="#0000ff"/>
<text class="lt" transform="translate(868.2,678.9) scale(1.185,1)">one substrate</text>
<text class="lt" transform="translate(868.2,726.7) scale(1.185,1)">two substrates</text>
<text class="lt" transform="translate(868.2,774.6) scale(1.185,1)">two substrate with MTM</text>
<text class="tl" text-anchor="end" transform="translate(125.8,22.0) scale(1.18,1)">0</text>
<text class="tl" text-anchor="end" transform="translate(125.8,84.4) scale(1.18,1)">-2</text>
<text class="tl" text-anchor="end" transform="translate(125.8,146.1) scale(1.18,1)">-4</text>
<text class="tl" text-anchor="end" transform="translate(125.8,207.9) scale(1.18,1)">-6</text>
<text class="tl" text-anchor="end" transform="translate(125.8,269.6) scale(1.18,1)">-8</text>
<text class="tl" text-anchor="end" transform="translate(125.8,331.3) scale(1.18,1)">-10</text>
<text class="tl" text-anchor="end" transform="translate(125.8,393.0) scale(1.18,1)">-12</text>
<text class="tl" text-anchor="end" transform="translate(125.8,454.7) scale(1.18,1)">-14</text>
<text class="tl" text-anchor="end" transform="translate(125.8,516.5) scale(1.18,1)">-16</text>
<text class="tl" text-anchor="end" transform="translate(125.8,578.2) scale(1.18,1)">-18</text>
<text class="tl" text-anchor="end" transform="translate(125.8,639.9) scale(1.18,1)">-20</text>
<text class="tl" text-anchor="end" transform="translate(125.8,701.6) scale(1.18,1)">-22</text>
<text class="tl" text-anchor="end" transform="translate(125.8,763.3) scale(1.18,1)">-24</text>
<text class="tl" text-anchor="middle" transform="translate(154.5,835.5) scale(1.18,1)">4.5</text>
<text class="tl" text-anchor="middle" transform="translate(358.9,835.5) scale(1.18,1)">5.0</text>
<text class="tl" text-anchor="middle" transform="translate(562.1,835.5) scale(1.18,1)">5.5</text>
<text class="tl" text-anchor="middle" transform="translate(765.2,835.5) scale(1.18,1)">6.0</text>
<text class="tl" text-anchor="middle" transform="translate(968.4,835.5) scale(1.18,1)">6.5</text>
<text class="tl" text-anchor="middle" transform="translate(1171.5,835.5) scale(1.18,1)">7.0</text>
<text class="tl" text-anchor="middle" transform="translate(1373.5,835.5) scale(1.18,1)">7.5</text>
<text class="tt" x="577" y="899.6" textLength="374.5" lengthAdjust="spacingAndGlyphs">Frequency [GHz]</text>
<text class="tt" style="font-size:38.5px" transform="translate(34.4,506.2) scale(1.16,1) rotate(-90)" x="0" y="0" textLength="159.5" lengthAdjust="spacingAndGlyphs">S11 [dB]</text>
</svg></body></html>
